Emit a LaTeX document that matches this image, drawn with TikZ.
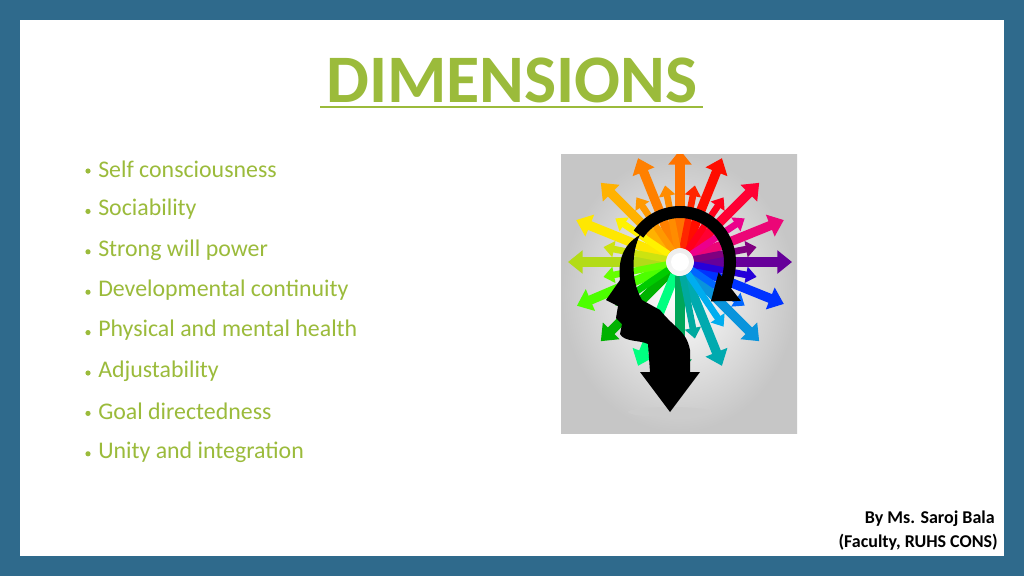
\documentclass[tikz,border=0pt]{standalone}
\usepackage{fontspec}
\setmainfont{Carlito}
\usetikzlibrary{arrows.meta}
\definecolor{frame}{HTML}{2F6A8C}
\definecolor{ttl}{HTML}{9BBB3B}
\tikzset{bul/.style={anchor=west,text=ttl,font=\fontsize{17.9}{20}\selectfont,inner sep=0pt},
 ray/.style={line width=7pt,-{Triangle[width=17pt,length=11pt]}},
 foot/.style={anchor=east,font=\bfseries\fontsize{13.5}{15}\selectfont,inner sep=0pt}}
\begin{document}
\begin{tikzpicture}[x=0.75pt,y=-0.75pt]
\useasboundingbox (0,0) rectangle (1024,576);
\fill[frame] (0,0) rectangle (1024,576);
\fill[white] (20,20) rectangle (1004,556);
\node[text=ttl,font=\bfseries\fontsize{51}{56}\selectfont] (title) at (512,80) {DIMENSIONS};
\draw[ttl,line width=2pt] (320,107) -- (703,107);
\foreach \t [count=\i] in {Self consciousness,Sociability,Strong will power,Developmental continuity,Physical and mental health,Adjustability,Goal directedness,Unity and integration}{
 \node[bul] (b\i) at (98,{169+40.4*(\i-1)}) {\t};
 \fill[ttl] (88,{171+40.4*(\i-1)}) circle (2.6);
}
% picture
\shade[inner color=white,outer color=gray!45] (561,154) rectangle (797,433);
\fill[gray!40] (670,412) ellipse (42 and 5);
\begin{scope}
\clip (561,154) rectangle (797,433);
\foreach \a/\c in {90/orange!90!red,112/orange,135/orange!60!yellow,158/yellow!90!orange,180/yellow!70!green,203/green!70!yellow,225/green!70!black,248/green!50!cyan,68/red!90!orange,45/red!80!magenta,22/magenta!80!red,0/violet!80!blue,-22/blue!80!cyan,-45/cyan!80!blue,-68/cyan!60!green,-90/teal!70!green}{
 \draw[ray,\c] ({680+14*cos(\a)},{262-14*sin(\a)}) -- ({680+112*cos(\a)},{262-112*sin(\a)});
}
\foreach \a/\c in {79/red!70!orange,101/orange!90!yellow,124/orange!80!yellow,146/yellow,169/yellow!80!green,191/green!60!yellow,214/green!80!black,56/red!90!magenta,34/magenta,11/violet,-11/blue!70!violet,-34/blue!60!cyan,-56/cyan,-79/cyan!50!green}{
 \draw[line width=5pt,-{Triangle[width=12pt,length=8pt]},\c] ({680+14*cos(\a)},{262-14*sin(\a)}) -- ({680+78*cos(\a)},{262-78*sin(\a)});
}
\end{scope}
\fill[white] (680,262) circle (9);
% head
\fill[black] (640,235) .. controls (622,245) and (618,262) .. (620,280)
 -- (606,300) -- (618,306) -- (616,318) -- (622,324) -- (620,334)
 .. controls (624,342) and (640,340) .. (648,344)
 -- (650,372) -- (640,372) -- (670,412) -- (700,372) -- (690,372)
 -- (690,350) .. controls (686,330) and (676,330) .. (660,310)
 -- (642,300) .. controls (630,280) and (632,250) .. (640,235) -- cycle;
\draw[line width=9pt,-{Triangle[width=26pt,length=18pt]}] (680,262) ++(214:50) arc[start angle=214,end angle=412,radius=50];
\node[foot] (f1) at (995,519) {By Ms. Saroj Bala};
\node[foot] (f2) at (998,542) {(Faculty, RUHS CONS)};
\end{tikzpicture}
\end{document}
